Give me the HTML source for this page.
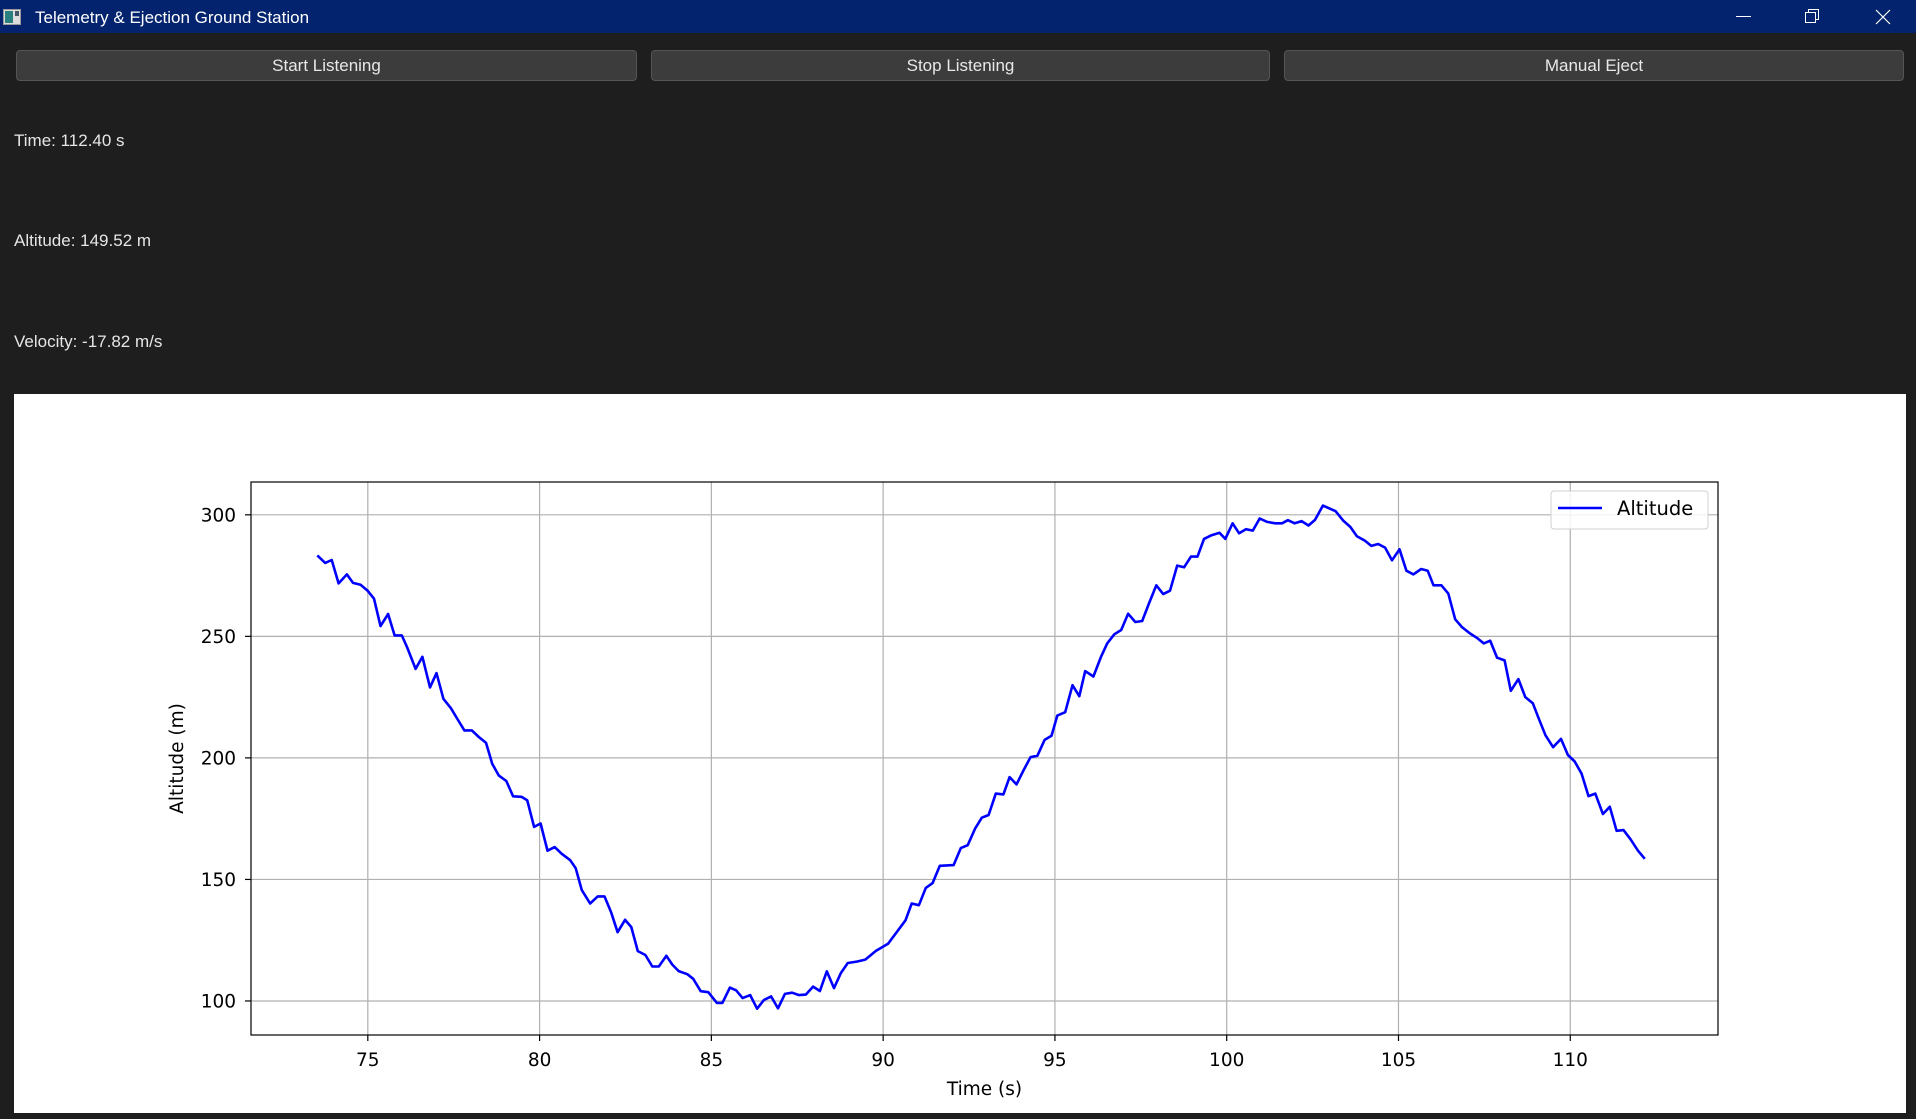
<!DOCTYPE html>
<html><head><meta charset="utf-8"><style>
html,body{margin:0;padding:0;width:1916px;height:1119px;overflow:hidden;background:#1e1e1e;font-family:"Liberation Sans",sans-serif}
#titlebar{position:absolute;left:0;top:0;width:1916px;height:33px;background:#03236e;color:#fff}
#titlebar .t{position:absolute;left:35px;top:8px;font-size:17px}
.btn{position:absolute;top:50px;height:29px;background:#3c3c3c;border:1px solid #555;border-radius:4px;color:#e8e8e8;font-size:17px;line-height:29px;text-align:center;box-sizing:content-box}
.lbl{position:absolute;left:14px;color:#e6e6e6;font-size:17px}
#panel{position:absolute;left:14px;top:394px;width:1892px;height:719px;background:#fff}
</style></head><body>
<div id="titlebar">
 <svg style="position:absolute;left:3px;top:9px" width="18" height="16"><rect x="0.5" y="0.5" width="17" height="15" fill="#ddd" stroke="#999"/><rect x="2" y="2" width="8" height="12" fill="#2a7f7f"/><rect x="12" y="2" width="4" height="5" fill="#456"/></svg>
 <span class="t">Telemetry &amp; Ejection Ground Station</span>
 <svg style="position:absolute;left:1730px;top:4px" width="180" height="26">
  <line x1="6" y1="12.5" x2="21" y2="12.5" stroke="#fff" stroke-width="1"/>
  <rect x="75.5" y="8.5" width="10" height="10" fill="none" stroke="#fff"/><path d="M78.5 8.5 V5.5 H88.5 V15.5 H85.5" fill="none" stroke="#fff"/>
  <path d="M146 6 L160 20 M160 6 L146 20" stroke="#fff" stroke-width="1.2"/>
 </svg>
</div>
<div class="btn" style="left:16px;width:619px">Start Listening</div>
<div class="btn" style="left:651px;width:617px">Stop Listening</div>
<div class="btn" style="left:1284px;width:618px">Manual Eject</div>
<div class="lbl" style="top:131px">Time: 112.40 s</div>
<div class="lbl" style="top:231px">Altitude: 149.52 m</div>
<div class="lbl" style="top:332px">Velocity: -17.82 m/s</div>
<div id="panel"></div>
<svg id="chart" style="position:absolute;left:0;top:0" width="1916" height="1119"></svg>
<script>
const times=[73.53,73.76,73.95,74.15,74.39,74.57,74.79,75.0,75.18,75.37,75.59,75.78,75.99,76.14,76.39,76.59,76.81,77.0,77.2,77.42,77.59,77.81,78.03,78.23,78.44,78.62,78.81,79.03,79.23,79.47,79.64,79.84,80.03,80.23,80.44,80.64,80.89,81.05,81.23,81.47,81.69,81.89,82.08,82.27,82.49,82.67,82.86,83.08,83.28,83.47,83.69,83.86,84.05,84.3,84.47,84.69,84.91,85.16,85.32,85.54,85.72,85.91,86.13,86.33,86.53,86.74,86.94,87.14,87.35,87.55,87.75,87.96,88.16,88.36,88.57,88.77,88.97,89.23,89.48,89.79,90.14,90.4,90.65,90.83,91.04,91.24,91.44,91.65,92.05,92.26,92.46,92.68,92.87,93.07,93.28,93.5,93.68,93.88,94.09,94.29,94.49,94.7,94.9,95.07,95.3,95.51,95.71,95.88,96.12,96.34,96.52,96.73,96.93,97.13,97.34,97.54,97.74,97.95,98.15,98.35,98.56,98.76,98.96,99.15,99.34,99.56,99.79,99.96,100.17,100.36,100.56,100.76,100.96,101.18,101.41,101.61,101.78,101.98,102.18,102.38,102.57,102.8,103.17,103.4,103.6,103.79,104.02,104.21,104.41,104.61,104.81,105.03,105.23,105.43,105.66,105.85,106.02,106.25,106.45,106.65,106.85,107.08,107.28,107.48,107.67,107.87,108.09,108.27,108.49,108.69,108.91,109.09,109.28,109.5,109.73,109.93,110.13,110.33,110.53,110.73,110.95,111.15,111.35,111.55,111.75,111.97,112.17];
const altitudes=[283.3,280.2,281.4,271.8,275.5,272,271.2,268.7,265.5,254.2,259.2,250.4,250.4,245.6,236.6,241.6,229,234.9,224.3,220.4,216.4,211.3,211.3,208.6,206.2,197.6,192.8,190.5,184.2,184,182.6,171.6,173,161.8,163.3,160.6,157.9,154.6,145.6,140.1,143,143,136.5,128.3,133.4,130.4,120.5,118.9,114.2,114.2,118.6,115,112.3,111,109.1,104,103.6,99.2,99.2,105.5,104.4,101.2,102.4,96.8,100.4,101.9,97,102.9,103.4,102.4,102.6,105.9,104.1,112.2,105.3,111.5,115.6,116.2,117,120.6,123.5,128.4,133.2,140.1,139.4,146.5,148.5,155.6,155.9,162.9,164.1,171,175.4,176.5,185.3,185,192.1,189.1,195,200.3,200.9,207.4,209.1,217.4,218.8,229.9,225.4,235.7,233.5,241.6,247.1,250.9,252.6,259.3,255.9,256.3,263.7,271,267.4,268.8,279.1,278.4,282.8,282.8,290.1,291.6,292.6,290.1,296.5,292.4,294.1,293.5,298.5,297.1,296.5,296.5,297.8,296.5,297.4,295.6,297.9,303.8,301.5,297.5,295,291.2,289.4,287.2,288,286.5,281.3,285.8,277,275.5,277.7,277,271,271,267.6,257,253.8,251.2,249.4,247.1,248.2,241.2,240.1,227.6,232.4,225,222.5,215.9,209.3,204.4,207.8,201.2,198.5,193.5,184.3,185.3,176.9,179.9,170,170.3,166.6,161.8,158.5];
const xTicks=[75,80,85,90,95,100,105,110];
const yTicks=[100,150,200,250,300];
const seriesName="Altitude";

const svg=document.getElementById('chart');
const NS='http://www.w3.org/2000/svg';
const L=251,R=1718,T=482,B=1035;
const xMin=71.6,xMax=114.3,yMin=86.0,yMax=313.5;
function X(v){return L+(v-xMin)/(xMax-xMin)*(R-L);}
function Y(v){return B-(v-yMin)/(yMax-yMin)*(B-T);}
function mk(tag,attrs,parent){const e=document.createElementNS(NS,tag);for(const k in attrs)e.setAttribute(k,attrs[k]);(parent||svg).appendChild(e);return e;}
const font='"DejaVu Sans",sans-serif';
const grid=mk('g',{});


xTicks.forEach(t=>{
 const g=mk('line',{x1:X(t),x2:X(t),y1:T,y2:B,stroke:'#b0b0b0','stroke-width':1.2},grid);
 
 
 const tk=mk('line',{x1:X(t),x2:X(t),y1:B,y2:B+6,stroke:'#000','stroke-width':1.2});
 
 
 const tx=mk('text',{x:X(t),y:B+31,'text-anchor':'middle','font-family':font,'font-size':18.5,fill:'#000'});
 tx.textContent=t;
 
 
});
yTicks.forEach(t=>{
 const g=mk('line',{x1:L,x2:R,y1:Y(t),y2:Y(t),stroke:'#b0b0b0','stroke-width':1.2},grid);
 
 
 const tk=mk('line',{x1:L-6,x2:L,y1:Y(t),y2:Y(t),stroke:'#000','stroke-width':1.2});
 
 
 const tx=mk('text',{x:L-15,y:Y(t)+6.5,'text-anchor':'end','font-family':font,'font-size':18.5,fill:'#000'});
 tx.textContent=t;
 
 
});
const line=mk('polyline',{points:times.map((t,i)=>X(t).toFixed(1)+','+Y(altitudes[i]).toFixed(1)).join(' '),fill:'none',stroke:'#0000ff','stroke-width':2.6,'stroke-linejoin':'round'});


const frame=mk('rect',{x:L,y:T,width:R-L,height:B-T,fill:'none',stroke:'#000','stroke-width':1.2});


const xl=mk('text',{x:(L+R)/2,y:1095,'text-anchor':'middle','font-family':font,'font-size':18.5,fill:'#000'});
xl.textContent='Time (s)';


const yl=mk('text',{x:0,y:0,'text-anchor':'middle','font-family':font,'font-size':18.5,fill:'#000',transform:'translate(183,'+((T+B)/2)+') rotate(-90)'});
yl.textContent='Altitude (m)';


const lg=mk('g',{});


mk('rect',{x:1551,y:491,width:157,height:38,rx:3,fill:'#fff','fill-opacity':0.85,stroke:'#d0d0d0','stroke-width':1},lg);
const ll=mk('line',{x1:1558,x2:1602,y1:508,y2:508,stroke:'#0000ff','stroke-width':2.6},lg);


const lt=mk('text',{x:1617,y:515,'font-family':font,'font-size':19.5,fill:'#000'},lg);
lt.textContent=seriesName;


</script>
</body></html>
